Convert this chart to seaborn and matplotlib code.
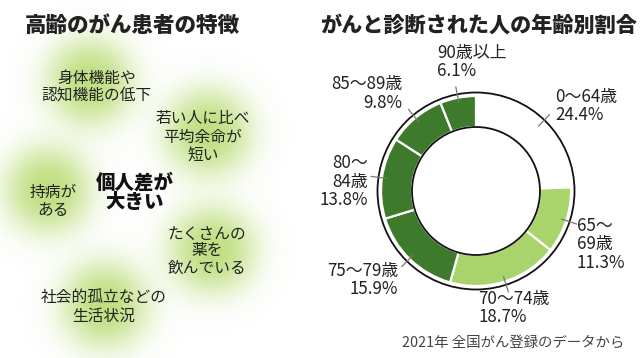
import numpy as np
import matplotlib
matplotlib.use("Agg")
import matplotlib.pyplot as plt
from matplotlib.patches import Circle
import seaborn as sns

# 画布像素尺寸
W, H = 640, 358

sns.set_theme(style="white")
plt.rcParams['font.family'] = ['Noto Sans CJK JP', 'DejaVu Sans']

# ==================== 数据 ====================
left_title = "高齢のがん患者の特徴"
right_title = "がんと診断された人の年齢別割合"
footnote = "2021年 全国がん登録のデータから"

features = [
    ["身体機能や", "認知機能の低下"],
    ["若い人に比べ", "平均余命が", "短い"],
    ["持病が", "ある"],
    ["たくさんの", "薬を", "飲んでいる"],
    ["社会的孤立などの", "生活状況"],
]
center_text = ["個人差が", "大きい"]

age_groups = ["0～64歳", "65～\n69歳", "70～74歳", "75～79歳", "80～\n84歳", "85～89歳", "90歳以上"]
shares = [24.4, 11.3, 18.7, 15.9, 13.8, 9.8, 6.1]

# 颜色
dark_green = "#3e7a2b"
light_green = "#a9d36b"
glow_green = np.array([0.70, 0.85, 0.40])
seg_colors = ["white", light_green, light_green, dark_green, dark_green, dark_green, dark_green]

# ==================== 布局 ====================
# 左侧气泡中心 (x, y 自上而下)，文字中心
glow_pos = [(90, 82), (208, 132), (48, 190), (212, 250), (105, 305)]
feat_pos = [(97, 79), (203, 119), (53, 192), (207, 234), (104, 297)]
feat_step = [16, 18, 19, 17, 19]

# 圆环
cx, cy = 476, 191
r_out, r_ring, r_in = 98.5, 95, 64

# 标签位置 (x, 第一行 y, 对齐)
label_pos = [(555, 97, "left"), (577, 226, "left"), (478, 299, "left"),
             (398, 271, "right"), (368, 163, "right"), (402, 84, "right"),
             (437, 53, "left")]

fig = plt.figure(figsize=(W / 100, H / 100), dpi=100)
ax = fig.add_axes([0, 0, 1, 1])


def Y(y):
    return H - y


# 绿色光晕
xs = np.arange(320) + 0.5
ys = np.arange(H) + 0.5
gx, gy = np.meshgrid(xs, ys)
keep = np.ones_like(gx)
for (bx, by) in glow_pos:
    d = np.hypot(gx - bx, gy - Y(by))
    keep *= 1 - 0.82 * np.exp(-(d / 44) ** 2.6)
img = np.zeros((H, 320, 4))
img[..., :3] = glow_green
img[..., 3] = 1 - keep
ax.imshow(img, extent=(0, 320, 0, H), origin="lower", interpolation="bilinear", zorder=1)

txt_color = "#222222"
for lines, (tx, ty), step in zip(features, feat_pos, feat_step):
    for i, s in enumerate(lines):
        ax.text(tx, Y(ty + i * step), s, ha="center", va="center",
                fontsize=11.3, color=txt_color, zorder=3)

for i, s in enumerate(center_text):
    ax.text(135, Y(183 + i * 19), s, ha="center", va="center",
            fontsize=14, fontweight="heavy", color="#111111", zorder=3)

ax.text(25, Y(25), left_title, ha="left", va="center", fontsize=15.5,
        fontweight="heavy", color="#222222")
ax.text(320, Y(25), right_title, ha="left", va="center", fontsize=15.2,
        fontweight="heavy", color="#222222")
ax.text(624, Y(343), footnote, ha="right", va="center", fontsize=10.4, color="#444444")

# 圆环图
wedges, _ = ax.pie(shares, colors=seg_colors, startangle=90, counterclock=False,
                   radius=r_ring, center=(cx, Y(cy)), frame=True,
                   wedgeprops=dict(width=r_ring - r_in, edgecolor="white", linewidth=1.6))
for w in wedges:
    w.set_zorder(2)
ax.add_patch(Circle((cx, Y(cy)), r_out, fill=False, ec="#111111", lw=1.3, zorder=4))
ax.add_patch(Circle((cx, Y(cy)), r_in, fill=False, ec="#111111", lw=1.3, zorder=4))

# 引出线 + 标签
cum = np.cumsum([0] + shares[:-1])
for name, share, start, (lx, ly, ha) in zip(age_groups, shares, cum, label_pos):
    ang = np.deg2rad(90 - (start + share / 2) / 100 * 360)
    r0, r1 = 90, 106
    ax.plot([cx + r0 * np.cos(ang), cx + r1 * np.cos(ang)],
            [Y(cy) + r0 * np.sin(ang), Y(cy) + r1 * np.sin(ang)],
            color="#777777", lw=0.9, zorder=5)
    lines = name.split("\n") + [f"{share:.1f}%"]
    for i, s in enumerate(lines):
        ax.text(lx, Y(ly + i * 18.5), s, ha=ha, va="center", fontsize=12.2,
                color=txt_color, zorder=5)

ax.set_xlim(0, W)
ax.set_ylim(0, H)
ax.set_aspect("auto")
ax.axis("off")

fig.savefig("out.png", dpi=100)
